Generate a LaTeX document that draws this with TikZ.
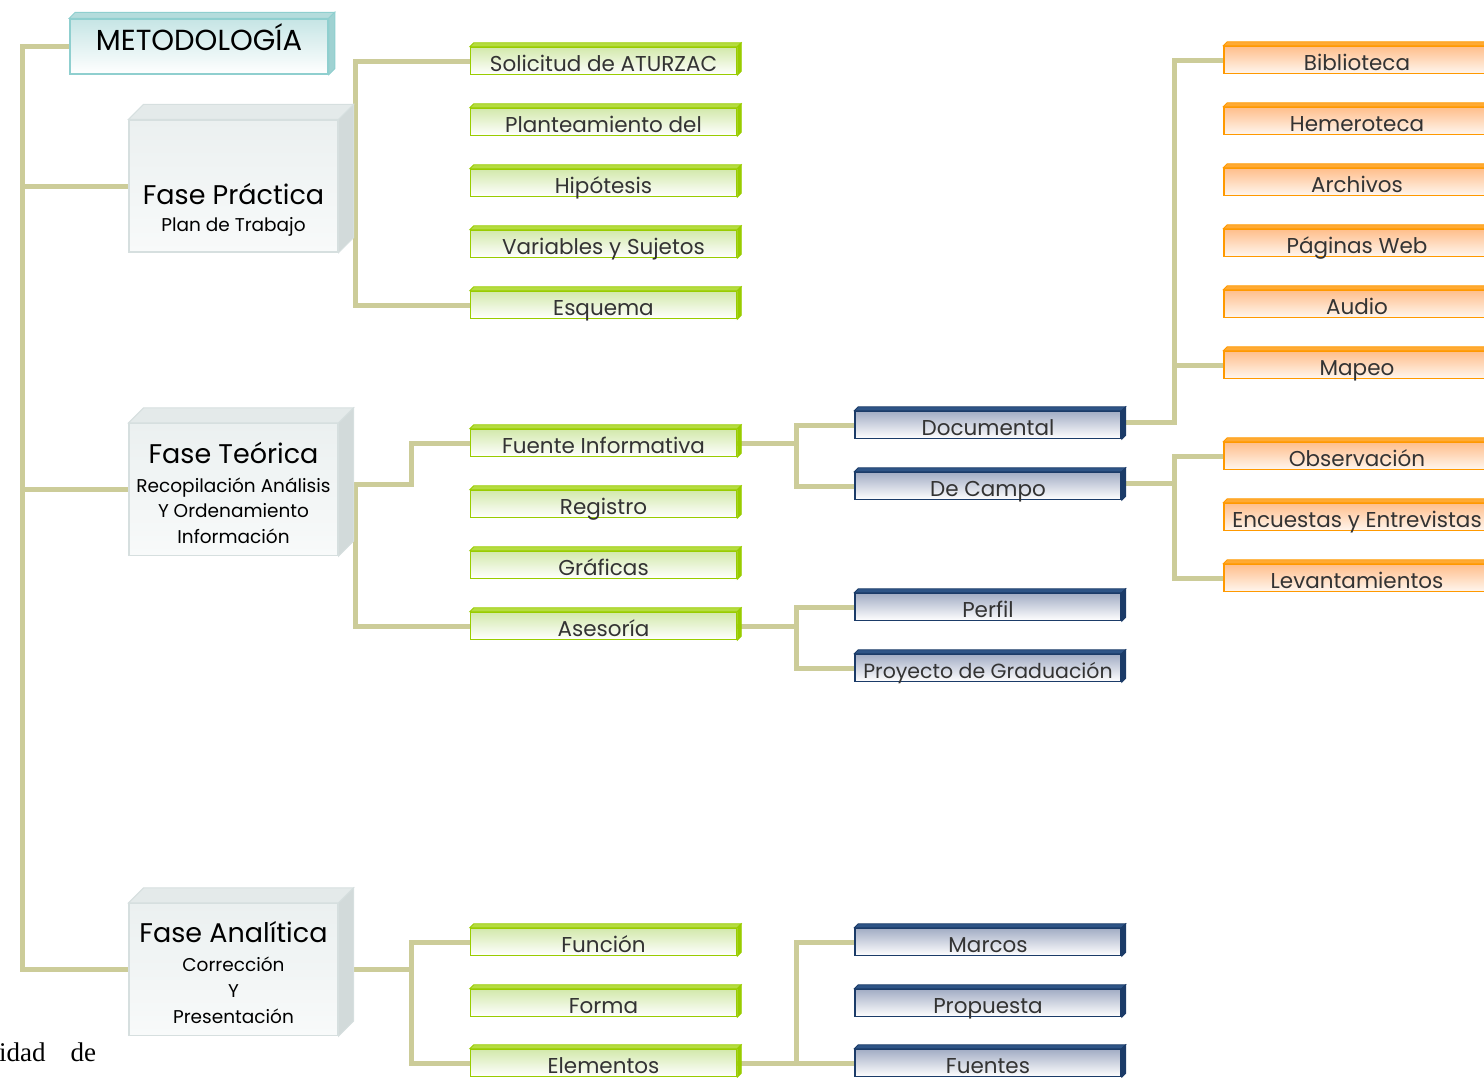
\documentclass[tikz,border=0pt]{standalone}
\usepackage{fontspec}
\setmainfont{Poppins}
\newfontfamily\serifF{Liberation Serif}
\definecolor{lineC}{HTML}{CCCC99}
\definecolor{txtC}{HTML}{333333}
\definecolor{gB}{HTML}{99CC00}
\definecolor{gT}{HTML}{D3E9AC}
\definecolor{gTop}{HTML}{B5DC40}
\definecolor{bB}{HTML}{1B3B68}
\definecolor{bT}{HTML}{A3AEC5}
\definecolor{bTop}{HTML}{2E5486}
\definecolor{oB}{HTML}{FF9900}
\definecolor{oT}{HTML}{FFBF8C}
\definecolor{oBot}{HTML}{FFF6EF}
\definecolor{oTop}{HTML}{FFAA33}
\definecolor{grB}{HTML}{D6DFDF}
\definecolor{grT}{HTML}{EBF0F0}
\definecolor{grBot}{HTML}{F8FAFA}
\definecolor{grTop}{HTML}{E4EAEA}
\definecolor{grSide}{HTML}{D2DADA}
\definecolor{mB}{HTML}{8FCFCF}
\definecolor{mT}{HTML}{C6E5E5}
\definecolor{mTop}{HTML}{B4DCDC}
\definecolor{mSide}{HTML}{9FD2D2}
\newcommand\bevelbox[4]{%
  \filldraw[#3] (#1.north west) -- ++(#2,-#2) -- ([shift={(#2,-#2)}]#1.north east) -- (#1.north east) -- cycle;
  \filldraw[#4] (#1.north east) -- ([shift={(#2,-#2)}]#1.north east) -- ([shift={(#2,-#2)}]#1.south east) -- (#1.south east) -- cycle;}
\begin{document}
\begin{tikzpicture}[x=1pt,y=-1pt,
  conn/.style={draw=lineC, line width=5pt},
  sbox/.style={minimum width=266pt, minimum height=27pt, inner sep=0pt, line width=1.5pt,
    text height=20pt, text depth=0pt, text=txtC, font=\fontsize{21.5}{21.5}\selectfont},
  gbox/.style={sbox, draw=gB, top color=gT, bottom color=white},
  bbox/.style={sbox, draw=bB, top color=bT, bottom color=white},
  obox/.style={sbox, draw=oB, top color=oT, bottom color=oBot},
  bigbox/.style={draw=grB, line width=1.2pt, top color=grT, bottom color=grBot,
    minimum width=209pt, minimum height=132pt, inner sep=0pt},
  ttl/.style={anchor=base, font=\fontsize{27}{27}\selectfont, text=black},
  sub/.style={anchor=base, font=\fontsize{18.5}{18.5}\selectfont, text=black},
]
\useasboundingbox (0,0) rectangle (1484,1077);

% ---------- junction coordinates ----------
\coordinate (trunk) at (22,0);
\coordinate (xp) at (355,0);
\coordinate (jt) at (411,484);
\coordinate (jt2) at (355,484);
\coordinate (jf) at (796,0);
\coordinate (jd) at (1174,422);
\coordinate (jc) at (1174,483);
\coordinate (ja) at (411,0);

% ---------- anchor nodes (positions) ----------
\path
  (199,46.5) node[minimum width=258pt, minimum height=55pt, inner sep=0pt] (meto) {}
  (233.5,186) node[minimum width=209pt, minimum height=132pt, inner sep=0pt] (fp) {}
  (233.5,489.5) node[minimum width=209pt, minimum height=132pt, inner sep=0pt] (ft) {}
  (233.5,969.5) node[minimum width=209pt, minimum height=132pt, inner sep=0pt] (fa) {};
\foreach \n/\y in {g1/61,g2/122,g3/183,g4/244,g5/305,g6/443,g7/504,g8/565,g9/626,g10/942,g11/1003,g12/1063}
  \path (603.5,\y) node[minimum width=266pt, minimum height=27pt, inner sep=0pt, outer sep=.75pt] (\n) {};
\foreach \n/\y in {b1/425,b2/486,b3/607,b4/668,b5/942,b6/1003,b7/1063}
  \path (988,\y) node[minimum width=266pt, minimum height=27pt, inner sep=0pt, outer sep=.75pt] (\n) {};
\foreach \n/\y in {o1/60,o2/121,o3/182,o4/243,o5/304,o6/365,o7/456,o8/517,o9/578}
  \path (1357,\y) node[minimum width=266pt, minimum height=27pt, inner sep=0pt, outer sep=.75pt] (\n) {};

% ---------- connectors ----------
\draw[conn] (meto.west) -| (trunk |- fa.west) -- (fa.west);
\draw[conn] (trunk |- fp.west) -- (fp.west);
\draw[conn] (trunk |- ft.west) -- (ft.west);
% Fase Practica
\draw[conn] (g1.west) -| (xp |- g5.west) -- (g5.west);
% Fase Teorica
\draw[conn] (g6.west) -| (jt) -- (jt2) |- (g9.west);
\draw[conn] (ft.east |- jt2) -- (jt2);
\draw[conn] (b1.west) -| (jf |- b2.west) -- (b2.west);
\draw[conn] (g6.east) -- (jf |- g6.east);
\draw[conn] (b3.west) -| (jf |- b4.west) -- (b4.west);
\draw[conn] (g9.east) -- (jf |- g9.east);
\draw[conn] (o1.west) -| (jd) -- ([yshift=3pt]b1.east);
\draw[conn] (jd |- o6.west) -- (o6.west);
\draw[conn] (o7.west) -| (jc |- o9.west) -- (o9.west);
\draw[conn] ([yshift=3pt]b2.east) -- (jc);
% Fase Analitica
\draw[conn] (g10.west) -| (ja |- g12.west) -- (g12.west);
\draw[conn] (fa.east) -- (ja |- fa.east);
\draw[conn] (b5.west) -| (jf |- b7.west) -- (b7.west);
\draw[conn] (g12.east) -- (jf |- g12.east);

% ---------- boxes ----------
\node[draw=mB, line width=1.5pt, top color=mT, bottom color=white, minimum width=258pt, minimum height=55pt, inner sep=0pt,
      text height=7pt, text depth=0pt, font=\fontsize{29}{29}\selectfont, text=black] (metoB) at (meto) {METODOLOGÍA};
\bevelbox{metoB}{6}{fill=mTop, draw=mB, line width=1pt}{fill=mSide, draw=mB, line width=1pt}

\foreach \n in {fp,ft,fa} {
  \node[bigbox] (\n B) at (\n) {};
  \bevelbox{\n B}{15}{fill=grTop, draw=grB, line width=1pt}{fill=grSide, draw=grB, line width=1pt}
}
\node[ttl] (fpt1) at (233.5,204) {Fase Práctica};
\node[sub] (fpt2) at (233.5,231) {Plan de Trabajo};
\node[ttl] (ftt1) at (233.5,463) {Fase Teórica};
\node[sub] (ftt2) at (233.5,492) {Recopilación Análisis};
\node[sub] (ftt3) at (233.5,517) {Y Ordenamiento};
\node[sub] (ftt4) at (233.5,543) {Información};
\node[ttl] (fat1) at (233.5,942) {Fase Analítica};
\node[sub] (fat2) at (233.5,971) {Corrección};
\node[sub] (fat3) at (233.5,997) {Y};
\node[sub] (fat4) at (233.5,1023) {Presentación};

\foreach \n/\t in {g1/Solicitud de ATURZAC,g2/Planteamiento del,g3/Hipótesis,g4/Variables y Sujetos,g5/Esquema,
                   g6/Fuente Informativa,g7/Registro,g8/Gráficas,g9/Asesoría,g10/Función,g11/Forma,g12/Elementos} {
  \node[gbox] (\n B) at (\n) {\t};
  \bevelbox{\n B}{4}{fill=gTop, draw=gB, line width=.8pt}{fill=gB, draw=gB, line width=.8pt}
}
\foreach \n/\t in {b1/Documental,b2/De Campo,b3/Perfil,b4/{\fontsize{20.5}{20.5}\selectfont Proyecto de Graduación},b5/Marcos,b6/Propuesta,b7/Fuentes} {
  \node[bbox] (\n B) at (\n) {\t};
  \bevelbox{\n B}{4}{fill=bTop, draw=bB, line width=.8pt}{fill=bB, draw=bB, line width=.8pt}
}
\foreach \n/\t in {o1/Biblioteca,o2/Hemeroteca,o3/Archivos,o4/Páginas Web,o5/Audio,o6/Mapeo,
                   o7/Observación,o8/Encuestas y Entrevistas,o9/Levantamientos} {
  \node[obox] (\n B) at (\n) {\t};
  \bevelbox{\n B}{4}{fill=oTop, draw=oB, line width=.8pt}{fill=oB, draw=oB, line width=.8pt}
}

\node[anchor=base west, inner sep=0pt, font=\serifF\fontsize{27}{27}\selectfont, text=black] (foot) at (-1,1061) {idad\hspace{25pt}de};
\end{tikzpicture}
\end{document}
